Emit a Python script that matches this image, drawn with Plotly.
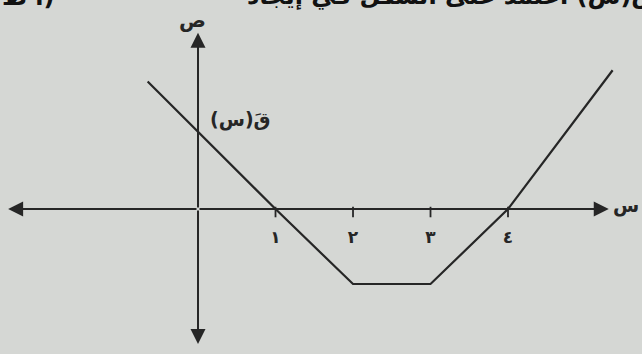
import plotly.graph_objects as go

# Piecewise-linear graph of the derivative q'(x)
x_pts = [-0.65, 1, 2, 3, 4, 5.35]
y_pts = [1.7, 0, -1, -1, 0, 1.85]

tick_vals = [1, 2, 3, 4]
tick_text = ["١", "٢", "٣", "٤"]

x_range = [-2.555, 5.729]
y_range = [-1.933, 2.787]

# Axis extents (arrow tips)
x_axis_ends = [-2.45, 5.3]
y_axis_ends = [-1.8, 2.35]

line_col = "#262626"
bg = "#d5d7d4"
font_ar = "DejaVu Sans"

fig = go.Figure()

fig.add_trace(go.Scatter(
    x=x_pts, y=y_pts, mode="lines",
    line=dict(color=line_col, width=2.2),
    hoverinfo="skip", showlegend=False,
))

# Tick marks on the x axis
for tv in tick_vals:
    fig.add_shape(type="line", x0=tv, x1=tv, y0=-0.11, y1=0.03,
                  line=dict(color=line_col, width=1.8))

# Tick labels
fig.add_trace(go.Scatter(
    x=tick_vals, y=[-0.4] * len(tick_vals), mode="text",
    text=tick_text,
    textfont=dict(family=font_ar, size=17, color=line_col, weight="bold"),
    hoverinfo="skip", showlegend=False,
))

# Double-headed axes
def axis_arrow(x_tip, y_tip, x_tail, y_tail):
    fig.add_annotation(
        x=x_tip, y=y_tip, ax=x_tail, ay=y_tail,
        xref="x", yref="y", axref="x", ayref="y",
        showarrow=True, arrowhead=2, arrowsize=1.5, arrowwidth=2,
        arrowcolor=line_col, text="",
    )

axis_arrow(x_axis_ends[1], 0, 0, 0)
axis_arrow(x_axis_ends[0], 0, 0, 0)
axis_arrow(0, y_axis_ends[1], 0, 0)
axis_arrow(0, y_axis_ends[0], 0, 0)

# Axis names and curve label
fig.add_annotation(x=0, y=y_axis_ends[1], yshift=13, xshift=-6, text="ص", showarrow=False,
                   font=dict(family=font_ar, size=20, color=line_col, weight="bold"))
fig.add_annotation(x=x_axis_ends[1], y=0, xshift=17, yshift=4, text="س", showarrow=False,
                   font=dict(family=font_ar, size=19, color=line_col, weight="bold"))
fig.add_annotation(x=0.55, y=1.19, text="قَ(س)", showarrow=False,
                   font=dict(family=font_ar, size=19, color=line_col, weight="bold"))

# Line of text running above the figure
fig.add_annotation(xref="paper", yref="paper", x=1.02, y=1.0, yshift=4,
                   xanchor="right", yanchor="middle",
                   text="ق(س) اعتمد على الشكل في إيجاد",
                   showarrow=False,
                   font=dict(family=font_ar, size=24, color="#111111", weight="bold"))
fig.add_annotation(xref="paper", yref="paper", x=0.0, y=1.0, yshift=4,
                   xanchor="left", yanchor="middle",
                   text="أ ط)", showarrow=False,
                   font=dict(family=font_ar, size=24, color="#111111", weight="bold"))

fig.update_xaxes(range=x_range, visible=False, fixedrange=True)
fig.update_yaxes(range=y_range, visible=False, fixedrange=True)
fig.update_layout(
    width=642, height=354,
    margin=dict(l=0, r=0, t=0, b=0),
    paper_bgcolor=bg, plot_bgcolor=bg,
)

fig.write_html("out.html")
